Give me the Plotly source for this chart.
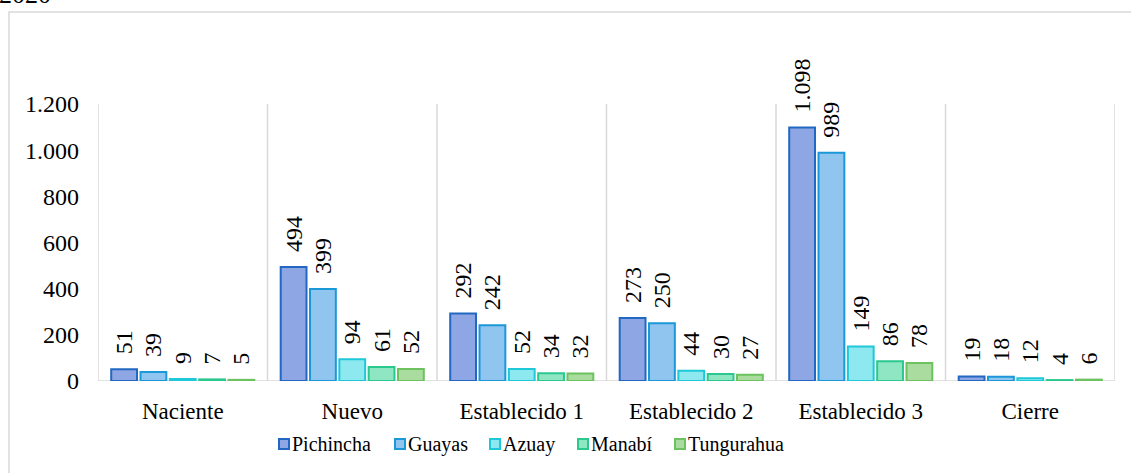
import plotly.graph_objects as go

# Etapas de emprendimiento por provincia, 2020
etapas = ["Naciente", "Nuevo", "Establecido 1", "Establecido 2", "Establecido 3", "Cierre"]
pichincha = [51, 494, 292, 273, 1098, 19]
guayas = [39, 399, 242, 250, 989, 18]
azuay = [9, 94, 52, 44, 149, 12]
manabi = [7, 61, 34, 30, 86, 4]
tungurahua = [5, 52, 32, 27, 78, 6]

series = [
    ("Pichincha", pichincha, "#8ea6e3", "#2268c2"),
    ("Guayas", guayas, "#90c5f0", "#1b98d8"),
    ("Azuay", azuay, "#8ee8ef", "#1ec8d8"),
    ("Manabí", manabi, "#8fe6c3", "#2ac88f"),
    ("Tungurahua", tungurahua, "#abdc9f", "#6cc25f"),
]

FONT = "Liberation Serif"
GRID = "#d9d9d9"

W, H = 1131, 473
ML, MR, MT, MB = 98, 16, 104, 92
PW, PH = W - ML - MR, H - MT - MB


def px_to_paper_x(px):
    return (px - ML) / PW


def px_to_paper_y(py):
    return (H - MB - py) / PH


fig = go.Figure()
for name, vals, fill, edge in series:
    fig.add_trace(go.Bar(
        name=name, x=etapas, y=vals, showlegend=False,
        marker=dict(color=fill, line=dict(color=edge, width=2)),
        texttemplate="\u00a0\u00a0%{y:,}", textposition="outside", textangle=-90,
        textfont=dict(family=FONT, size=24, color="#000000"),
        constraintext="none", cliponaxis=False,
    ))

shapes = []
# separadores verticales entre etapas
for i in range(len(etapas) + 1):
    shapes.append(dict(type="line", xref="x", yref="y", x0=i - 0.5, x1=i - 0.5,
                       y0=0, y1=1200, line=dict(color=GRID, width=1.5), layer="below"))
# línea base
shapes.append(dict(type="line", xref="x", yref="y", x0=-0.5, x1=len(etapas) - 0.5,
                   y0=0, y1=0, line=dict(color=GRID, width=1.5), layer="below"))
# marco del gráfico
shapes.append(dict(type="rect", xref="paper", yref="paper",
                   x0=px_to_paper_x(9), x1=px_to_paper_x(W + 10),
                   y0=px_to_paper_y(H + 10), y1=px_to_paper_y(12),
                   line=dict(color=GRID, width=1.5), layer="below"))

annotations = [dict(text="2020", xref="paper", yref="paper",
                    x=px_to_paper_x(-3), y=px_to_paper_y(11),
                    xanchor="left", yanchor="bottom", showarrow=False,
                    font=dict(family=FONT, size=26))]

# leyenda: cuadro de color + nombre de la provincia
legend_x = [278, 394, 489, 577, 674]
legend_y = 444
for (name, _, fill, edge), lx in zip(series, legend_x):
    shapes.append(dict(type="rect", xref="paper", yref="paper",
                       x0=px_to_paper_x(lx + 1), x1=px_to_paper_x(lx + 11),
                       y0=px_to_paper_y(legend_y + 5), y1=px_to_paper_y(legend_y - 5),
                       fillcolor=fill, line=dict(color=edge, width=2)))
    annotations.append(dict(text=name, xref="paper", yref="paper",
                            x=px_to_paper_x(lx + 12), y=px_to_paper_y(legend_y),
                            xanchor="left", yanchor="middle", showarrow=False,
                            font=dict(family=FONT, size=20, color="#000000")))

fig.update_layout(
    width=W, height=H,
    margin=dict(l=ML, r=MR, t=MT, b=MB),
    paper_bgcolor="white", plot_bgcolor="white",
    separators=",.",
    barmode="group", bargap=0.135, bargroupgap=0.12,
    font=dict(family=FONT, size=20, color="#000000"),
    shapes=shapes, annotations=annotations,
    showlegend=False,
)
fig.update_xaxes(range=[-0.5, len(etapas) - 0.5], showgrid=False, showline=False,
                 ticks="", tickfont=dict(family=FONT, size=23), ticklabelstandoff=14)
fig.update_yaxes(range=[0, 1200], tickvals=[0, 200, 400, 600, 800, 1000, 1200],
                 tickformat=",", showgrid=False, showline=False, zeroline=False,
                 ticks="", tickfont=dict(family=FONT, size=24), ticklabelstandoff=18)

fig.write_html("out.html")
